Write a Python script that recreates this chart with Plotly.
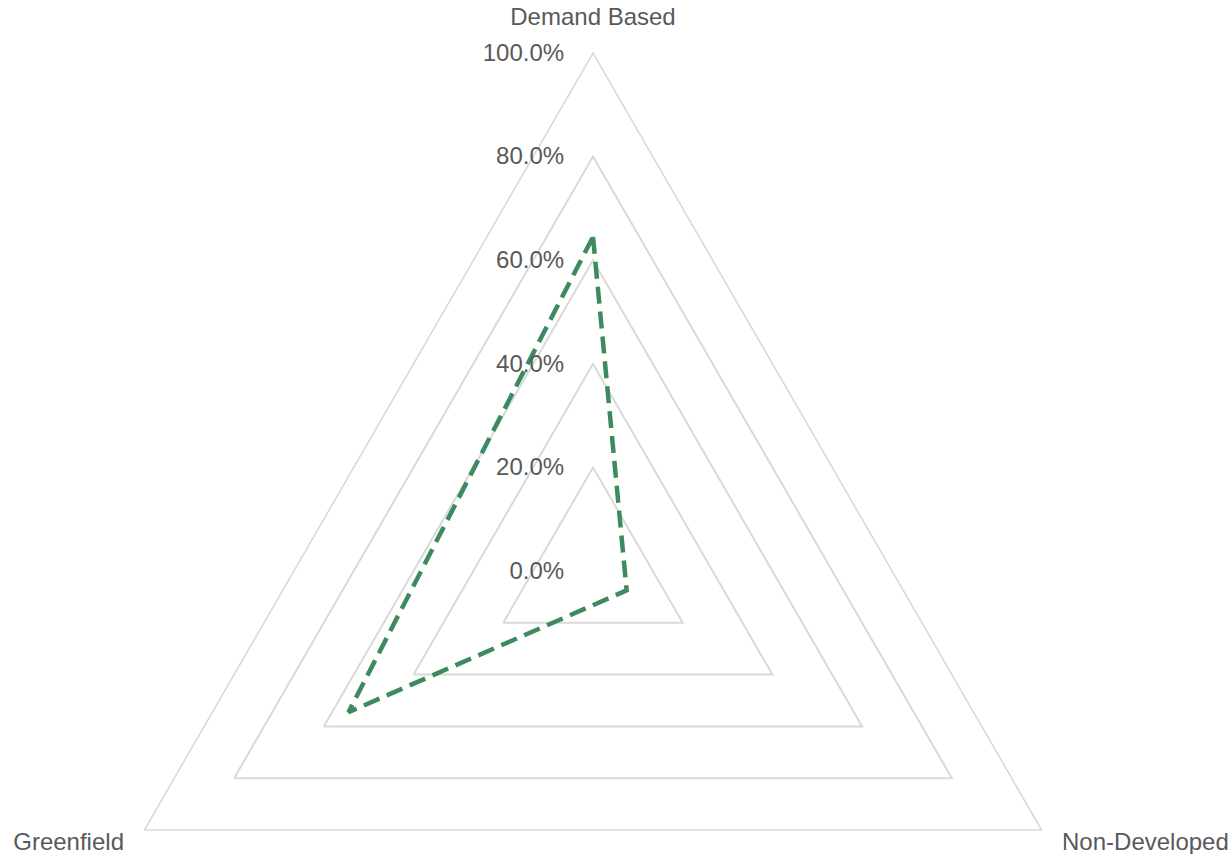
import plotly.graph_objects as go

# Radar categories and their shares
categories = ["Demand Based", "Non-Developed", "Greenfield"]
shares = [0.645, 0.075, 0.545]
radial_ticks = [0, 0.2, 0.4, 0.6, 0.8, 1.0]

grid_color = "#d9d9d9"
text_color = "#595959"
line_color = "#3d8a5e"
font_family = "Liberation Sans, Arial, sans-serif"
NBSP = "\u00a0"
full_domain = dict(x=[0, 1], y=[0, 1])

fig = go.Figure()
fig.add_trace(
    go.Scatterpolar(
        r=shares + shares[:1],
        theta=categories + categories[:1],
        mode="lines",
        line=dict(color=line_color, width=4.5, dash="17px,8px"),
        showlegend=False,
        hoverinfo="skip",
        subplot="polar",
    )
)
# Helper trace so the overlay subplot carrying the lower category labels is drawn
fig.add_trace(
    go.Scatterpolar(
        r=[0] * len(categories),
        theta=categories,
        mode="lines",
        line=dict(width=0, color="rgba(0,0,0,0)"),
        showlegend=False,
        hoverinfo="skip",
        subplot="polar2",
    )
)

angular_common = dict(
    type="category",
    categoryarray=categories,
    rotation=90,
    direction="clockwise",
    showgrid=False,
    tickmode="array",
    tickvals=categories,
    tickfont=dict(size=24, color=text_color, family=font_family),
)

fig.update_layout(
    width=1231,
    height=1100,
    margin=dict(t=53, b=11, l=50, r=95),
    paper_bgcolor="white",
    plot_bgcolor="white",
    font=dict(family=font_family, size=24, color=text_color),
    polar=dict(
        domain=full_domain,
        bgcolor="white",
        gridshape="linear",
        angularaxis=dict(
            **angular_common,
            showline=True,
            linecolor=grid_color,
            linewidth=1.6,
            ticks="outside",
            ticklen=18,
            tickcolor="rgba(0,0,0,0)",
            ticktext=[categories[0], "", ""],
        ),
        radialaxis=dict(
            range=[0, 1],
            angle=90,
            side="counterclockwise",
            tickangle=90,
            tickvals=radial_ticks,
            tickformat=".1%",
            showline=False,
            gridcolor=grid_color,
            gridwidth=1.5,
            ticks="outside",
            ticklen=20,
            tickcolor="rgba(0,0,0,0)",
            tickfont=dict(size=24, color=text_color, family=font_family),
        ),
    ),
    # Overlay subplot: same frame, only the two lower category labels
    polar2=dict(
        domain=full_domain,
        bgcolor="rgba(0,0,0,0)",
        gridshape="linear",
        angularaxis=dict(
            **angular_common,
            showline=False,
            ticks="",
            ticktext=["", NBSP * 3 + categories[1], categories[2] + NBSP * 3],
        ),
        radialaxis=dict(visible=False, range=[0, 1]),
    ),
)

fig.write_html("out.html")
